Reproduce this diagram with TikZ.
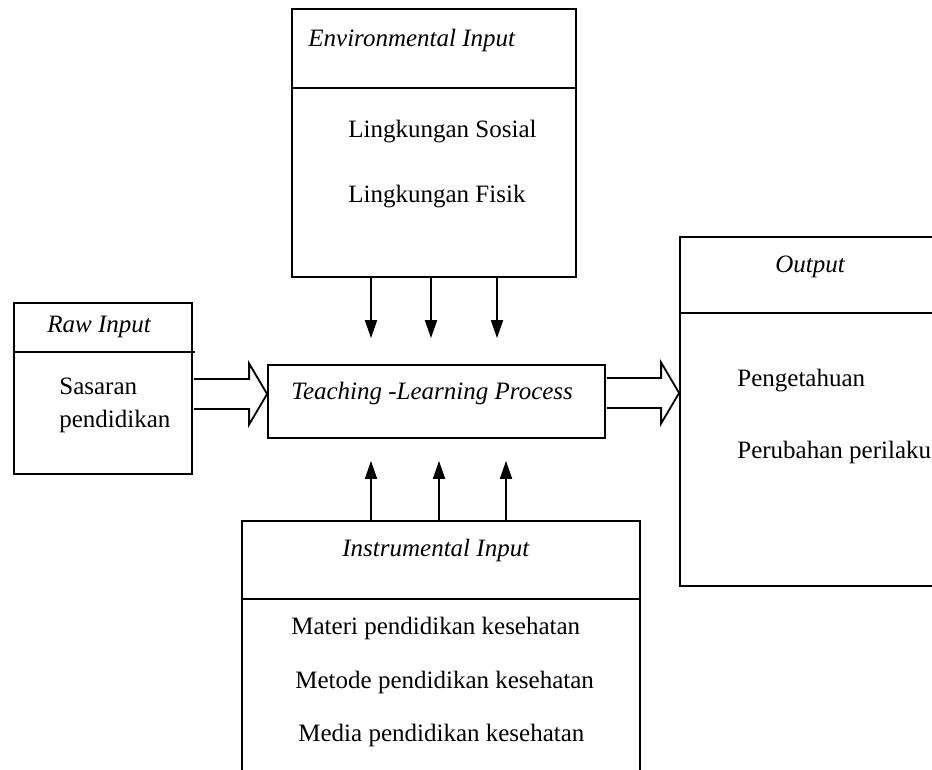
\documentclass[tikz,border=0pt]{standalone}
\usepackage{fontspec}
\setmainfont{Liberation Serif}
\usetikzlibrary{arrows.meta,calc}

\tikzset{
    box/.style={draw, line width=0.9pt, inner sep=0pt},
    rule/.style={line width=0.9pt},
    txt/.style={anchor=west, inner sep=0pt, font=\fontsize{12.5}{15}\selectfont},
    ttl/.style={txt, font=\fontsize{12.5}{15}\selectfont\itshape},
    flow/.style={line width=0.9pt, -{Triangle[length=9pt,width=6pt]}},
    hollow/.style={line width=0.9pt, line join=miter}
}

% hollow block arrow from #1 to #2
\newcommand{\blockarr}[2]{%
    \draw[hollow] ($(#1)+(1,-15)$) -- ($(#2)+(-18,-15)$) -- ($(#2)+(-18,-30.5)$) -- (#2)
        -- ($(#2)+(-18,30.5)$) -- ($(#2)+(-18,15)$) -- ($(#1)+(1,15)$);}

\begin{document}
\begin{tikzpicture}[x=0.5pt, y=-0.5pt]
        \clip (0,0) rectangle (932,770);

        % Environmental input
        \node[box, minimum width=142pt, minimum height=134pt] (env) at (434,143) {};
        \draw[rule] (env.west |- 0,88) -- (env.east |- 0,88);
        \node[ttl] (envtitle) at (308,40.5) {Environmental Input};
        \node[txt] (sosial) at (348,131.5) {Lingkungan Sosial};
        \node[txt] (fisik) at (348,196.5) {Lingkungan Fisik};

        % Raw input
        \node[box, minimum width=89pt, minimum height=85.5pt] (raw) at (103,388.5) {};
        \draw[rule] (raw.west |- 0,352) -- ($(raw.east |- 0,352)+(2,0)$);
        \node[ttl] (rawtitle) at (47,326.5) {Raw Input};
        \node[txt] (sasaran) at (59,386) {Sasaran};
        \node[txt] (pendidikan) at (59,421) {pendidikan};

        % Proses
        \node[box, minimum width=168.5pt, minimum height=36.5pt] (tlp) at (436.5,401.5) {};
        \node[ttl] (tlptext) at (291,393) {Teaching -Learning Process};

        % Output
        \node[box, minimum width=135pt, minimum height=174.5pt] (out) at (815,411.5) {};
        \draw[rule] (out.west |- 0,313) -- (out.east |- 0,313);
        \node[ttl] (outtitle) at (775,266.5) {Output};
        \node[txt] (tahu) at (737,381) {Pengetahuan};
        \node[txt] (perilaku) at (737,452.5) {Perubahan perilaku};

        % Instrumental input
        \node[box, minimum width=199pt, minimum height=139.5pt] (inst) at (441,660.5) {};
        \draw[rule] (inst.west |- 0,599) -- (inst.east |- 0,599);
        \node[ttl] (insttitle) at (342,550) {Instrumental Input};
        \node[txt] (materi) at (291,628.5) {Materi pendidikan kesehatan};
        \node[txt] (metode) at (295,682) {Metode pendidikan kesehatan};
        \node[txt] (media) at (298,735.5) {Media pendidikan kesehatan};

        % Panah
        \foreach \x in {371,431,497}
            \draw[flow, shorten >=13pt] (env.south -| \x,0) -- (tlp.north -| \x,0);
        \foreach \x in {371,439,506}
            \draw[flow, shorten >=11pt] (inst.north -| \x,0) -- (tlp.south -| \x,0);

        \coordinate (rawtail) at (raw.east |- 0,394);
        \coordinate (rawtip) at (tlp.west |- 0,394);
        \blockarr{rawtail}{rawtip}
        \coordinate (tlptail) at (tlp.east |- 0,393);
        \coordinate (tlptip) at (out.west |- 0,393);
        \blockarr{tlptail}{tlptip}
    \end{tikzpicture}
\end{document}
